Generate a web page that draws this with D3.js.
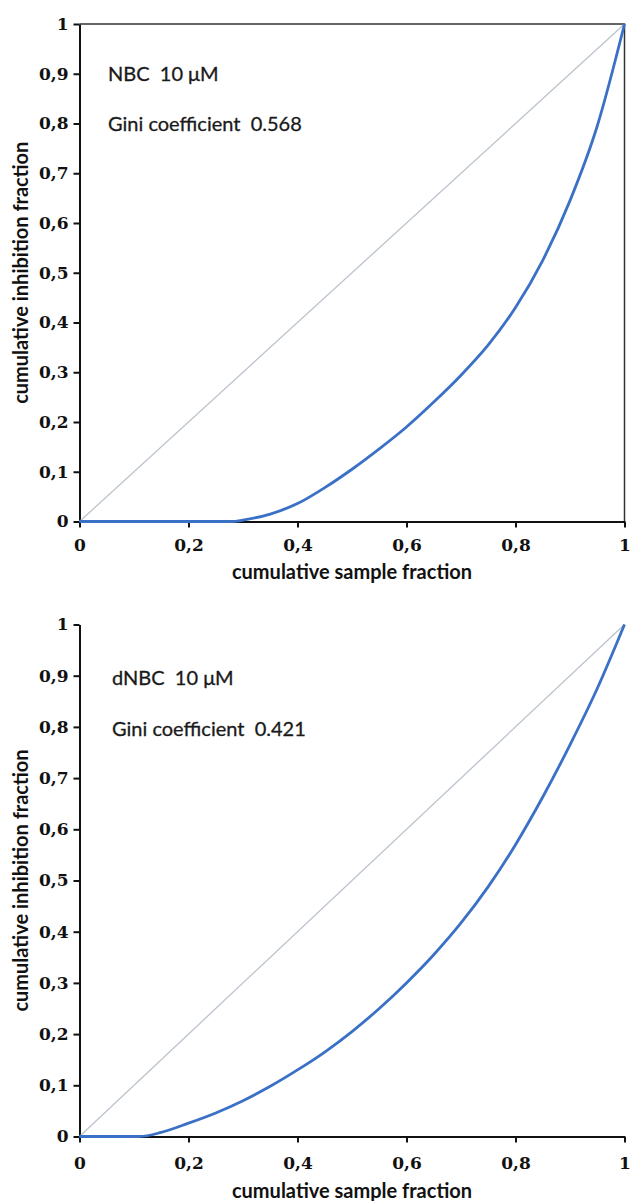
<!DOCTYPE html>
<html>
<head>
<meta charset="utf-8">
<script src="https://cdn.jsdelivr.net/npm/d3@7"></script>
<style>
  body { margin: 0; background: #fff; }
  svg { display: block; }
  .tick text { font-family: "DejaVu Serif", serif; font-weight: bold; font-size: 17px; fill: #111; }
  .title { font-family: Lato, "Open Sans", sans-serif; font-weight: bold; font-size: 20px; fill: #111; }
  .note { font-family: Lato, "Open Sans", sans-serif; font-size: 20px; fill: #1a1a1a; stroke: #1a1a1a; stroke-width: 0.3; white-space: pre; }
</style>
</head>
<body>
<div id="chart"></div>
<script>
// tick values shared by both panels
var xTicks = [0, 0.2, 0.4, 0.6, 0.8, 1];
var yTicks = [0, 0.1, 0.2, 0.3, 0.4, 0.5, 0.6, 0.7, 0.8, 0.9, 1];

// Lorenz curve, NBC 10 uM
var nbcX = [0, 0.1, 0.2, 0.28, 0.3, 0.35, 0.4, 0.45, 0.5, 0.55, 0.6, 0.65, 0.7, 0.75, 0.8, 0.85, 0.9, 0.95, 1];
var nbcY = [0, 0, 0, 0, 0.003, 0.015, 0.036, 0.068, 0.105, 0.146, 0.19, 0.24, 0.294, 0.355, 0.43, 0.525, 0.645, 0.795, 1];

// Lorenz curve, dNBC 10 uM
var dnbcX = [0, 0.05, 0.11, 0.15, 0.2, 0.25, 0.3, 0.35, 0.4, 0.45, 0.5, 0.55, 0.6, 0.65, 0.7, 0.75, 0.8, 0.85, 0.9, 0.95, 1];
var dnbcY = [0, 0, 0, 0.008, 0.026, 0.046, 0.07, 0.098, 0.13, 0.165, 0.205, 0.25, 0.3, 0.355, 0.417, 0.488, 0.57, 0.663, 0.765, 0.875, 1];

var panelNames = ['NBC  10 \u03bcM', 'dNBC  10 \u03bcM'];
var giniLabels = ['Gini coefficient  0.568', 'Gini coefficient  0.421'];

var width = 632, height = 1201;
var svg = d3.select('#chart').append('svg')
  .attr('width', width)
  .attr('height', height);

function fmt(d) {
  return String(d).replace('.', ',');
}

function toPoints(xs, ys) {
  return xs.map(function(x, i) { return { x: x, y: ys[i] }; });
}

function drawPanel(opts) {
  var x = d3.scaleLinear().domain([0, 1]).range([opts.left, opts.right]);
  var y = d3.scaleLinear().domain([0, 1]).range([opts.bottom, opts.top]);
  var g = svg.append('g');

  // frame on the top panel only
  if (opts.frame) {
    g.append('path')
      .attr('d', 'M' + x(0) + ',' + y(1) + 'H' + x(1) + 'V' + y(0))
      .attr('fill', 'none')
      .attr('stroke', '#333')
      .attr('stroke-width', 1.5);
  }

  var yAxis = g.append('g')
    .attr('transform', 'translate(' + x(0) + ',0)')
    .call(d3.axisLeft(y).tickValues(yTicks).tickFormat(fmt).tickSize(6).tickSizeOuter(0).tickPadding(5));
  var xAxis = g.append('g')
    .attr('transform', 'translate(0,' + y(0) + ')')
    .call(d3.axisBottom(x).tickValues(xTicks).tickFormat(fmt).tickSize(6).tickSizeOuter(0).tickPadding(opts.xPad));

  [yAxis, xAxis].forEach(function(ax) {
    ax.select('.domain').attr('stroke', '#111').attr('stroke-width', 2);
    ax.selectAll('.tick line').attr('stroke', '#111').attr('stroke-width', 2);
  });

  // equality line
  g.append('line')
    .attr('x1', x(0)).attr('y1', y(0))
    .attr('x2', x(1)).attr('y2', y(1))
    .attr('stroke', '#bcc3cc')
    .attr('stroke-width', 1.3);

  var line = d3.line()
    .x(function(d) { return x(d.x); })
    .y(function(d) { return y(d.y); })
    .curve(d3.curveMonotoneX);

  g.append('path')
    .datum(opts.data)
    .attr('d', line)
    .attr('fill', 'none')
    .attr('stroke', '#3a70c6')
    .attr('stroke-width', 2.8);

  g.append('text')
    .attr('class', 'note')
    .attr('x', opts.noteX)
    .attr('y', y(0.9) + opts.noteDy)
    .text(opts.name);
  g.append('text')
    .attr('class', 'note')
    .attr('x', opts.noteX)
    .attr('y', y(0.8) + opts.noteDy)
    .text(opts.gini);

  g.append('text')
    .attr('class', 'title')
    .attr('text-anchor', 'middle')
    .attr('transform', 'translate(28,' + ((opts.top + opts.bottom) / 2) + ') rotate(-90)')
    .text('cumulative inhibition fraction');
  g.append('text')
    .attr('class', 'title')
    .attr('text-anchor', 'middle')
    .attr('x', (opts.left + opts.right) / 2)
    .attr('y', opts.bottom + opts.titleGap)
    .text('cumulative sample fraction');
}

drawPanel({
  left: 79.5, right: 624.5, top: 24, bottom: 521.5,
  frame: true, noteX: 108, noteDy: 7, titleGap: 57, xPad: 11,
  data: toPoints(nbcX, nbcY),
  name: panelNames[0], gini: giniLabels[0]
});

drawPanel({
  left: 79.5, right: 624.5, top: 624.5, bottom: 1136.5,
  frame: false, noteX: 112, noteDy: 9, titleGap: 61.5, xPad: 14,
  data: toPoints(dnbcX, dnbcY),
  name: panelNames[1], gini: giniLabels[1]
});
</script>
</body>
</html>
